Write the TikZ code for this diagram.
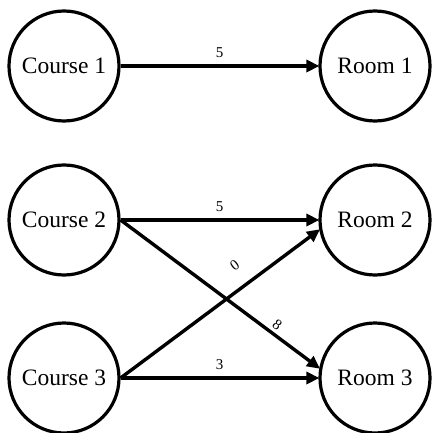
\documentclass[tikz,border=0pt]{standalone}
\usepackage{fontspec}
\setmainfont{Liberation Serif}
\usetikzlibrary{arrows.meta}
\begin{document}
\begin{tikzpicture}[x=1pt,y=-1pt,
  vertex/.style={circle,draw,line width=3.2pt,minimum size=110pt,inner sep=0pt,font=\fontsize{23.5}{27}\selectfont},
  edge/.style={line width=3.4pt,-{Triangle[length=13pt,width=12pt]},shorten >=-1pt},
  wt/.style={font=\fontsize{15}{17}\selectfont,inner sep=1pt}]
\useasboundingbox (0,0) rectangle (431,433);
\node[vertex] (c1) at (64,66) {Course 1};
\node[vertex] (r1) at (375,66) {Room 1};
\node[vertex] (c2) at (64,220) {Course 2};
\node[vertex] (r2) at (375,220) {Room 2};
\node[vertex] (c3) at (64,378) {Course 3};
\node[vertex] (r3) at (375,378) {Room 3};
\draw[edge] (c1.east) -- node[wt,above=6pt] {5} (r1.west);
\draw[edge] (c2.east) -- node[wt,above=6pt] {5} (r2.west);
\draw[edge] (c3.east) -- node[wt,above=6pt] {3} (r3.west);
\draw[edge] (c2.east) -- node[wt,pos=0.76,sloped,above=2pt] {8} (r3.170);
\draw[edge] (c3.east) -- node[wt,pos=0.64,sloped,above=14pt] {0} (r2.190);
\end{tikzpicture}
\end{document}
